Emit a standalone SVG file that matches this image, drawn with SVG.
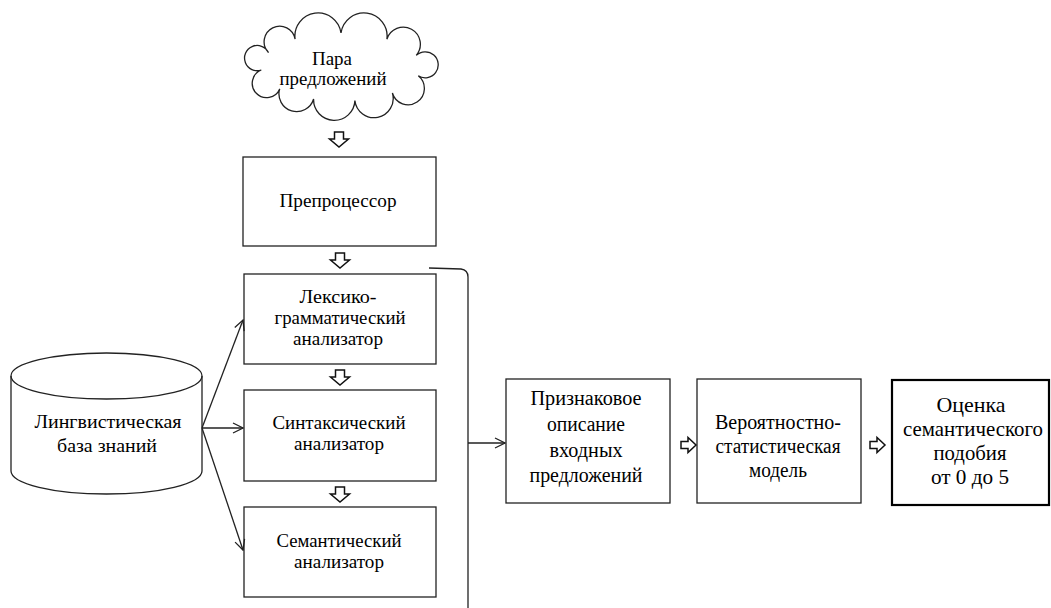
<svg xmlns="http://www.w3.org/2000/svg" width="1051" height="608" viewBox="0 0 1051 608">
<defs>
<style>
.box{fill:#fff;stroke:#222;stroke-width:1.3}
.thick{fill:#fff;stroke:#000;stroke-width:2.2}
.t{font-family:"Liberation Serif","Times New Roman",serif;fill:#000;text-anchor:middle}
.ln{fill:none;stroke:#222;stroke-width:1.3}
.ba{fill:#fff;stroke:#111;stroke-width:1.5;stroke-linejoin:miter}
</style>
<marker id="open" viewBox="0 0 12 12" refX="11" refY="6" markerWidth="12" markerHeight="12" markerUnits="userSpaceOnUse" orient="auto">
<path d="M1 1 L11 6 L1 11" fill="none" stroke="#222" stroke-width="1.3"/>
</marker>
<path id="down" d="M-4.5 0 H4.5 V7 H9.5 L0 15 L-9.5 7 H-4.5 Z"/>
<path id="right" d="M0 -3.5 H7 V-7.5 L15 0 L7 7.5 V3.5 H0 Z"/>
</defs>

<g id="cloud">
<path class="box" d="M416.2 55.4 A13 13 0 1 1 418.3 75.8 A16.3 16.3 0 1 1 392.4 93 A19.2 19.2 0 1 1 354.9 100.5 A1 1 0 0 1 313.6 99 A1 1 0 0 1 279.7 88.9 A14.3 14.3 0 1 1 261.3 70 A12.6 12.6 0 1 1 268.5 52.6 A15.6 15.6 0 1 1 295.1 39.2 A1 1 0 0 1 341 33 A1 1 0 0 1 386.9 39.2 A17.1 17.1 0 1 1 416.2 55.4 Z"/>
<text class="t" font-size="19" x="332" y="65" textLength="40" lengthAdjust="spacingAndGlyphs">Пара</text>
<text class="t" font-size="19" x="333" y="85" textLength="107" lengthAdjust="spacingAndGlyphs">предложений</text>
</g>

<g id="preprocessor">
<rect class="box" x="243" y="157" width="193" height="89"/>
<text class="t" font-size="19" x="338" y="207" textLength="117" lengthAdjust="spacingAndGlyphs">Препроцессор</text>
</g>

<g id="lexico">
<rect class="box" x="244" y="274" width="192" height="90"/>
<text class="t" font-size="19" x="338" y="303" textLength="77" lengthAdjust="spacingAndGlyphs">Лексико-</text>
<text class="t" font-size="19" x="340" y="324" textLength="131" lengthAdjust="spacingAndGlyphs">грамматический</text>
<text class="t" font-size="19" x="338" y="345" textLength="90" lengthAdjust="spacingAndGlyphs">анализатор</text>
</g>

<g id="syntax">
<rect class="box" x="244" y="390" width="192" height="91"/>
<text class="t" font-size="19" x="339" y="429" textLength="133" lengthAdjust="spacingAndGlyphs">Синтаксический</text>
<text class="t" font-size="19" x="339" y="450" textLength="90" lengthAdjust="spacingAndGlyphs">анализатор</text>
</g>

<g id="semantic">
<rect class="box" x="244" y="507" width="192" height="90"/>
<text class="t" font-size="19" x="339" y="547" textLength="125" lengthAdjust="spacingAndGlyphs">Семантический</text>
<text class="t" font-size="19" x="339" y="568" textLength="90" lengthAdjust="spacingAndGlyphs">анализатор</text>
</g>

<g id="knowledge-base">
<path class="box" d="M11 376 A95.5 23 0 0 1 202 376 L202 471 A95.5 23 0 0 1 11 471 Z"/>
<path class="ln" d="M11 376 A95.5 23 0 0 0 202 376"/>
<text class="t" font-size="19" x="108" y="428" textLength="147" lengthAdjust="spacingAndGlyphs">Лингвистическая</text>
<text class="t" font-size="19" x="107" y="452" textLength="100" lengthAdjust="spacingAndGlyphs">база знаний</text>
</g>

<g id="features">
<rect class="box" x="506" y="379" width="164" height="124"/>
<text class="t" font-size="20" x="586" y="405" textLength="111" lengthAdjust="spacingAndGlyphs">Признаковое</text>
<text class="t" font-size="20" x="586" y="431" textLength="78" lengthAdjust="spacingAndGlyphs">описание</text>
<text class="t" font-size="20" x="586" y="457" textLength="73" lengthAdjust="spacingAndGlyphs">входных</text>
<text class="t" font-size="20" x="586" y="482" textLength="113" lengthAdjust="spacingAndGlyphs">предложений</text>
</g>

<g id="model">
<rect class="box" x="697" y="379" width="164" height="124"/>
<text class="t" font-size="20" x="778" y="429" textLength="126" lengthAdjust="spacingAndGlyphs">Вероятностно-</text>
<text class="t" font-size="20" x="778" y="453" textLength="125" lengthAdjust="spacingAndGlyphs">статистическая</text>
<text class="t" font-size="20" x="778" y="477" textLength="58" lengthAdjust="spacingAndGlyphs">модель</text>
</g>

<g id="score">
<rect class="thick" x="892" y="380" width="157" height="125"/>
<text class="t" font-size="21" x="971" y="412" textLength="69" lengthAdjust="spacingAndGlyphs">Оценка</text>
<text class="t" font-size="21" x="973" y="436" textLength="140" lengthAdjust="spacingAndGlyphs">семантического</text>
<text class="t" font-size="21" x="970" y="460" textLength="73" lengthAdjust="spacingAndGlyphs">подобия</text>
<text class="t" font-size="21" x="970" y="484" textLength="78" lengthAdjust="spacingAndGlyphs">от 0 до 5</text>
</g>

<g id="connectors">
<use href="#down" class="ba" x="339" y="132"/>
<use href="#down" class="ba" x="340" y="253"/>
<use href="#down" class="ba" x="340" y="370"/>
<use href="#down" class="ba" x="340" y="487"/>
<use href="#right" class="ba" x="681" y="445"/>
<use href="#right" class="ba" x="870" y="445"/>
<path class="ln" d="M429 268 L461 269 Q468 270 468 277 L468 608"/>
<path class="ln" d="M468 443 H505" marker-end="url(#open)"/>
<path class="ln" d="M202 428 L243 320" marker-end="url(#open)"/>
<path class="ln" d="M202 428 H243" marker-end="url(#open)"/>
<path class="ln" d="M202 428 L243 550" marker-end="url(#open)"/>
</g>
</svg>
